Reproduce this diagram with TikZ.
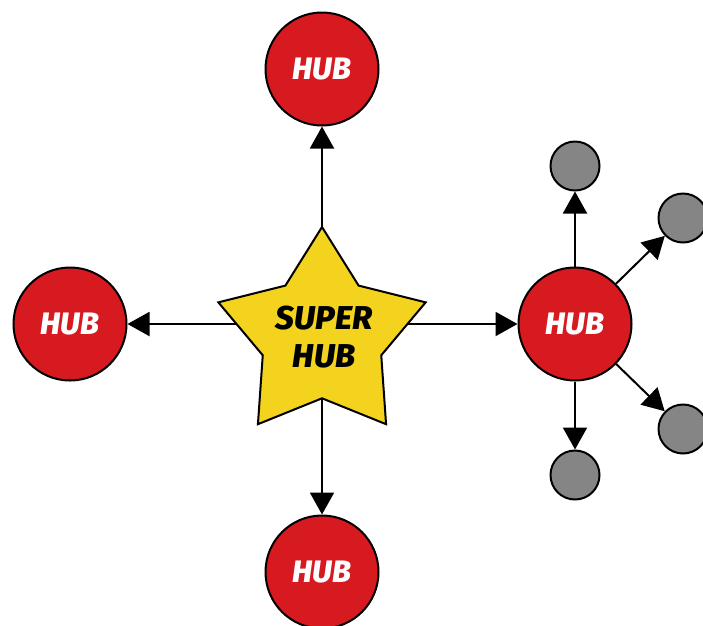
\documentclass[tikz,border=0pt]{standalone}
\usepackage{fontspec}
\setmainfont{Fira Sans}[BoldItalicFont={Fira Sans ExtraBold Italic}]
\usetikzlibrary{shapes.geometric,arrows.meta,backgrounds}
\definecolor{hubred}{HTML}{D71920}
\definecolor{staryellow}{HTML}{F3D31E}
\definecolor{leafgray}{HTML}{858585}
\begin{document}
\begin{tikzpicture}[x=1pt,y=-1pt,
  hub/.style={circle,draw=black,line width=2pt,fill=hubred,minimum size=113pt,inner sep=0pt,
    text=white,font=\fontsize{31}{31}\selectfont\bfseries\itshape},
  leaf/.style={circle,draw=black,line width=2pt,fill=leafgray,minimum size=49pt,inner sep=0pt},
  superstar/.style={star,star points=5,star point ratio=1.75,draw=black,line width=2pt,
    fill=staryellow,minimum size=218pt,inner sep=0pt},
  starlabel/.style={align=center,text=black,inner sep=0pt,
    font=\fontsize{33}{38}\selectfont\bfseries\itshape},
  link/.style={line width=2pt,-{Triangle[length=22pt,width=24pt]}}]
\useasboundingbox (0,0) rectangle (703,625);
\node[hub] (top) at (322,69) {HUB};
\node[hub] (left) at (70,324) {HUB};
\node[hub] (bottom) at (322,572) {HUB};
\node[hub] (right) at (575,324) {HUB};
\node[superstar] (star) at (322,336) {};
\node[starlabel] (superlabel) at (324,337) {SUPER\\HUB};
\node[leaf] (l1) at (575,166) {};
\node[leaf] (l2) at (683,218) {};
\node[leaf] (l3) at (683,429) {};
\node[leaf] (l4) at (575,475) {};
\begin{pgfonlayer}{background}
\draw[link] (star.center) -- (top);
\draw[link] (star.center) -- (bottom);
\draw[link] (star.center |- left) -- (left);
\draw[link] (star.center |- right) -- (right);
\end{pgfonlayer}
\draw[link] (right) -- (l1);
\draw[link] (right) -- (l2);
\draw[link] (right) -- (l3);
\draw[link] (right) -- (l4);
\end{tikzpicture}
\end{document}
